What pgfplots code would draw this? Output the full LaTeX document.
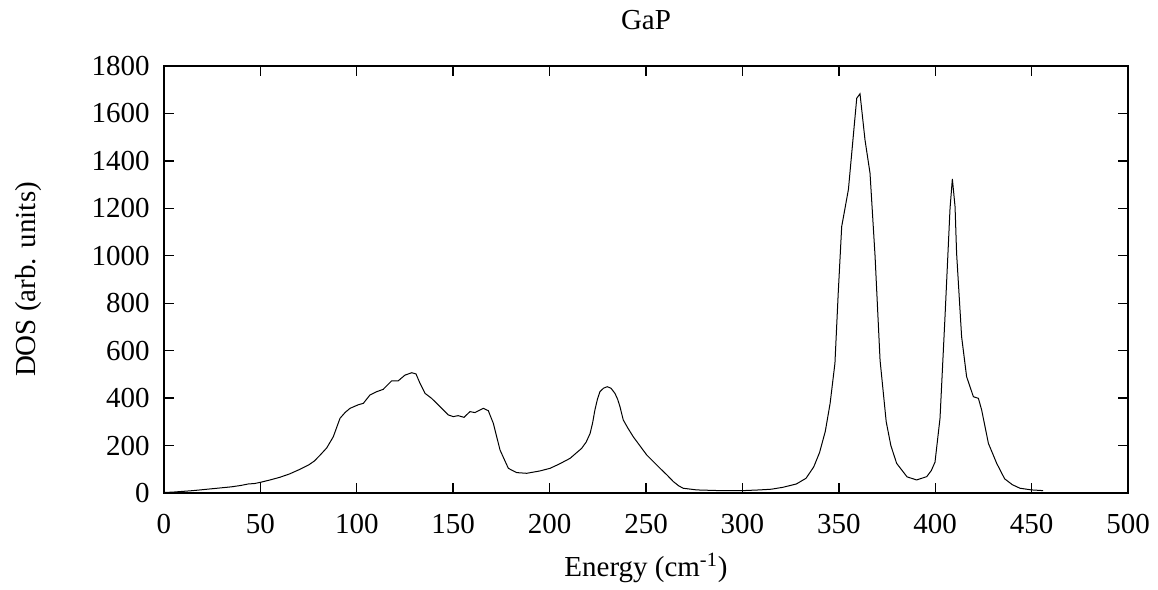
\documentclass[border=0pt]{standalone}
\usepackage{fontspec}
\setmainfont{Liberation Serif}
\usepackage{pgfplots}
\pgfplotsset{compat=1.18}

\begin{document}
\begin{tikzpicture}[font=\fontsize{14.5bp}{17bp}\selectfont]
\useasboundingbox (-82bp,-48.5bp) rectangle (497bp,246.5bp);
\begin{axis}[
    at={(0,0)}, anchor=south west,
    scale only axis,
    width=482bp, height=213.5bp,
    xmin=0, xmax=500, ymin=0, ymax=1800,
    xtick distance=50, ytick distance=200,
    tick align=inside,
    major tick length=5bp,
    axis line style={line width=0.8bp},
    tick style={line width=0.7bp, black},
    /pgf/number format/assume math mode=true,
    /pgf/number format/1000 sep={},
    xticklabel style={anchor=base, inner sep=0pt, yshift=-20bp},
    yticklabel style={anchor=east, inner sep=0pt, xshift=-7bp},
    every axis title shift=0pt,
    title={GaP},
    title style={at={(axis description cs:0.5,1.0843)}, anchor=base, inner sep=0pt},
    xlabel={Energy (cm\textsuperscript{-1})},
    xlabel style={at={(axis description cs:0.5,-0.1967)}, anchor=base, inner sep=0pt},
    ylabel={DOS (arb. units)},
    ylabel style={at={(axis description cs:-0.141,0.5)}, anchor=center, inner sep=0pt},
  ]
  \addplot[black, line width=0.5bp, mark=none] table {
    x     y
    0     2
    5     4
    10    7
    15    10
    20    14
    25    18
    30    22
    35    26
    40    32
    43.7  38
    47    40
    50    45
    55    55
    60    66
    65    80
    70    98
    75    118
    78    135
    81    160
    84.4  190
    87.8  237
    91.3  315
    94    340
    96.5  357
    100.8 372
    103.4 378
    106.8 413
    110.3 427
    113.7 437
    118.1 473
    121.5 473
    125   497
    128.5 507
    130.7 502
    132.8 462
    135.4 420
    138.8 399
    143.2 364
    147.5 329
    150   322
    152.6 326
    155.6 319
    158.7 343
    161.3 339
    165.6 357
    168.2 347
    170.8 294
    174.3 181
    178.6 104
    182.9 86
    188.1 83
    195   93
    200.2 104
    205   122
    210.6 146
    216.6 188
    219   215
    221   251
    222.3 295
    223.5 350
    224.8 395
    226.1 427
    228   442
    229.9 448
    231.8 442
    233.9 420
    235.3 395
    236.5 364
    238.2 308
    240.5 275
    243.4 237
    250.4 160
    257.3 104
    261   75
    264.2 48
    267   30
    269.3 20
    276.3 13
    288.4 10
    300   10
    309   13
    315   16
    321   24
    328   38
    333   62
    337   110
    340   170
    343   260
    345.5 378
    348   547
    349.7 842
    351.5 1123
    355   1280
    359.3 1664
    361   1683
    363.6 1488
    366.2 1348
    368.8 1000
    371.4 560
    374.6 300
    377   200
    380   125
    385.4 68
    390.4 55
    395.6 69
    398   95
    399.9 130
    402.5 315
    405.1 745
    407.7 1200
    408.9 1324
    410.3 1207
    411.1 1011
    413.7 659
    416.3 490
    419.8 406
    422.4 399
    424.1 350
    427.6 209
    431.9 125
    436   60
    440   35
    444   20
    450   13
    456   10
  };
\end{axis}
\end{tikzpicture}
\end{document}
